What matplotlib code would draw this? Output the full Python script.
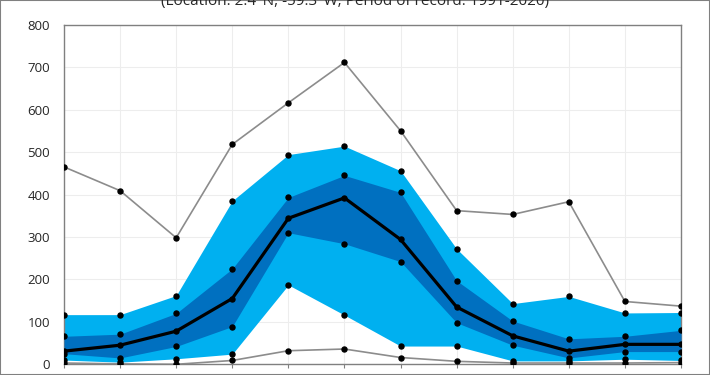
import numpy as np
import matplotlib
matplotlib.use("Agg")
import matplotlib.pyplot as plt
from matplotlib.patches import Rectangle

# Monthly precipitation statistics (mm)
months = ["Jan", "Feb", "Mar", "Apr", "May", "Jun",
          "Jul", "Aug", "Sep", "Oct", "Nov", "Dec"]
p_max = [465, 409, 298, 518, 616, 711, 550, 362, 353, 383, 148, 137]
p90 = [117, 117, 162, 385, 494, 514, 456, 272, 143, 160, 121, 122]
p75 = [66, 71, 120, 225, 393, 445, 405, 197, 102, 60, 66, 80]
p50 = [31, 45, 78, 155, 344, 392, 294, 135, 67, 31, 47, 47]
p25 = [25, 15, 42, 89, 310, 284, 242, 98, 45, 15, 30, 30]
p10 = [10, 5, 13, 24, 187, 116, 43, 43, 8, 8, 12, 9]
p_min = [3, 1, 0, 9, 32, 36, 16, 7, 3, 3, 3, 4]

title = "(Location: 2.4°N, -59.3°W; Period of record: 1991-2020)"

LIGHT = "#00B0F0"
DARK = "#0070C0"
GREY = "#8c8c8c"

plt.rcParams["font.family"] = ["Open Sans", "DejaVu Sans"]

fig = plt.figure(figsize=(7.1, 3.75), dpi=100)
ax = fig.add_axes([64 / 710, (375 - 364.3) / 375,
                   617 / 710, 339.6 / 375])
x = np.arange(len(months))

ax.fill_between(x, p10, p90, color=LIGHT, lw=0, zorder=2)
ax.fill_between(x, p25, p75, color=DARK, lw=0, zorder=3)
ax.plot(x, p_max, color=GREY, lw=1.2, zorder=4)
ax.plot(x, p_min, color=GREY, lw=1.2, zorder=4)
ax.plot(x, p50, color="black", lw=2.3, zorder=5)
for s in (p_max, p90, p75, p50, p25, p10, p_min):
    ax.plot(x, s, ls="none", marker="o", ms=3.6, color="black", zorder=6)

ax.set_xlim(0, 11)
ax.set_ylim(0, 800)
ax.set_yticks(np.arange(0, 801, 100))
ax.set_xticks(x)
ax.set_xticklabels(months)
ax.grid(color="#ededed", lw=0.8, zorder=0)
ax.set_axisbelow(True)
for sp in ax.spines.values():
    sp.set_color("#808080")
    sp.set_linewidth(1.0)
ax.tick_params(axis="y", length=0, labelsize=9.5, colors="#262626", pad=10)
ax.tick_params(axis="x", length=3, color="#808080", labelsize=9.5,
               colors="#262626", pad=5)

fig.text(355 / 710, 1 - 1 / 375, title, ha="center", va="center",
         fontsize=11, color="#262626")

fig.patches.append(Rectangle((0, 0), 1, 1, transform=fig.transFigure,
                             fill=False, edgecolor="#808080", lw=1.5))

fig.savefig("out.png", dpi=100)
